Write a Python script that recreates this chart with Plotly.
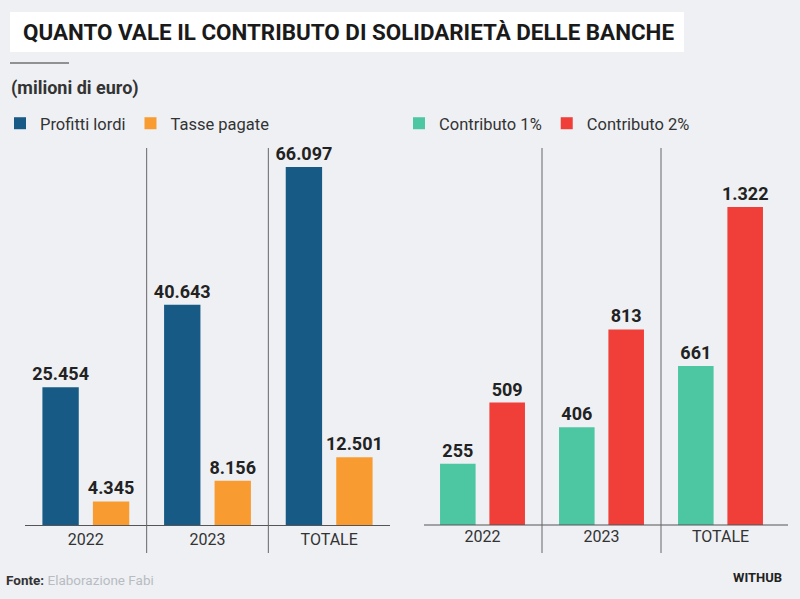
import plotly.graph_objects as go

categories = ["2022", "2023", "TOTALE"]
profitti_lordi = [25454, 40643, 66097]
tasse_pagate = [4345, 8156, 12501]
contributo_1 = [255, 406, 661]
contributo_2 = [509, 813, 1322]

BG = "#eef0f3"
BLUE = "#175a86"
ORANGE = "#f89c32"
TEAL = "#4dc6a2"
RED = "#ef3f38"
FONT = "Roboto"

fig = go.Figure()

def add_bar(name, x, y, color, xa, ya, legend):
    fig.add_trace(go.Bar(
        name=name, x=x, y=y, marker=dict(color=color, line=dict(width=0)),
        xaxis=xa, yaxis=ya, legend=legend,
        texttemplate="%{y:,}", textposition="outside", cliponaxis=False,
        constraintext="none",
        textfont=dict(family=FONT, size=18, color="#222222", weight="bold"),
    ))

add_bar("Profitti lordi", categories, profitti_lordi, BLUE, "x", "y", "legend")
add_bar("Tasse pagate", categories, tasse_pagate, ORANGE, "x", "y", "legend")
add_bar("Contributo 1%", categories, contributo_1, TEAL, "x2", "y2", "legend2")
add_bar("Contributo 2%", categories, contributo_2, RED, "x2", "y2", "legend2")

W, H = 800, 599
ydom = [1 - 525 / H, 1 - 150 / H]
axis_common = dict(showgrid=False, zeroline=False, fixedrange=True)
legend_font = dict(family=FONT, size=16.5, color="#333333")
fig.update_layout(
    width=W, height=H,
    paper_bgcolor=BG, plot_bgcolor=BG,
    margin=dict(l=0, r=0, t=0, b=0),
    separators=",.",
    barmode="group", bargap=0.17, bargroupgap=0.28,
    showlegend=True,
    font=dict(family=FONT, color="#333333"),
    xaxis=dict(domain=[25 / W, 390 / W], anchor="y", showline=True,
               linecolor="#555555", linewidth=1.2, ticks="",
               tickfont=dict(family=FONT, size=16, color="#333333"), **axis_common),
    yaxis=dict(domain=ydom, anchor="x", range=[0, 69235], visible=False, **axis_common),
    xaxis2=dict(domain=[423 / W, 780 / W], anchor="y2", showline=False, ticks="",
                tickfont=dict(family=FONT, size=16, color="#333333"), **axis_common),
    yaxis2=dict(domain=ydom, anchor="x2", range=[0, 1559], visible=False, **axis_common),
    legend=dict(orientation="h", x=0, y=1 - 106 / H, xanchor="left", yanchor="top",
                font=legend_font, bgcolor="rgba(0,0,0,0)", traceorder="normal"),
    legend2=dict(orientation="h", x=399 / W, y=1 - 106 / H, xanchor="left", yanchor="top",
                 font=legend_font, bgcolor="rgba(0,0,0,0)", traceorder="normal"),
)

shapes = []
# title box
shapes.append(dict(type="rect", xref="paper", yref="paper", x0=10 / W, x1=684 / W,
                   y0=1 - 52 / H, y1=1 - 12 / H, fillcolor="white", line=dict(width=0), layer="below"))
# short rule
shapes.append(dict(type="line", xref="paper", yref="paper", x0=10 / W, x1=69 / W,
                   y0=1 - 63 / H, y1=1 - 63 / H, line=dict(color="#333333", width=1.2)))
# right baseline
shapes.append(dict(type="line", xref="paper", yref="paper", x0=424 / W, x1=788 / W,
                   y0=ydom[0], y1=ydom[0], line=dict(color="#555555", width=1.2)))
# group separators
for xr in ["x", "x2"]:
    for pos in [0.5, 1.5]:
        shapes.append(dict(type="line", xref=xr, yref="paper", x0=pos, x1=pos,
                           y0=1 - 553 / H, y1=1 - 148 / H,
                           line=dict(color="#666666", width=1)))
fig.update_layout(shapes=shapes)

annotations = [
    dict(text="<b>QUANTO VALE IL CONTRIBUTO DI SOLIDARIETÀ DELLE BANCHE</b>", x=21 / W, y=1 - 32 / H,
         xref="paper", yref="paper", xanchor="left", yanchor="middle", showarrow=False,
         font=dict(family=FONT, size=22.4, color="#1a1a1a")),
    dict(text="<b>(milioni di euro)</b>", x=9 / W, y=1 - 88 / H,
         xref="paper", yref="paper", xanchor="left", yanchor="middle", showarrow=False,
         font=dict(family=FONT, size=18, color="#333333")),
    dict(text="<b>Fonte:</b> <span style='color:#b8bcc2'>Elaborazione Fabi</span>", x=4 / W, y=1 - 580 / H,
         xref="paper", yref="paper", xanchor="left", yanchor="middle", showarrow=False,
         font=dict(family=FONT, size=13.5, color="#333333")),
    dict(text="<b>WITHUB</b>", x=784 / W, y=1 - 577 / H,
         xref="paper", yref="paper", xanchor="right", yanchor="middle", showarrow=False,
         font=dict(family=FONT, size=13, color="#222222")),
]
fig.update_layout(annotations=annotations)

fig.write_html(
    "out.html",
    config={"displayModeBar": False},
    post_script="document.body.style.margin='0';document.body.style.background='" + BG + "';",
)
